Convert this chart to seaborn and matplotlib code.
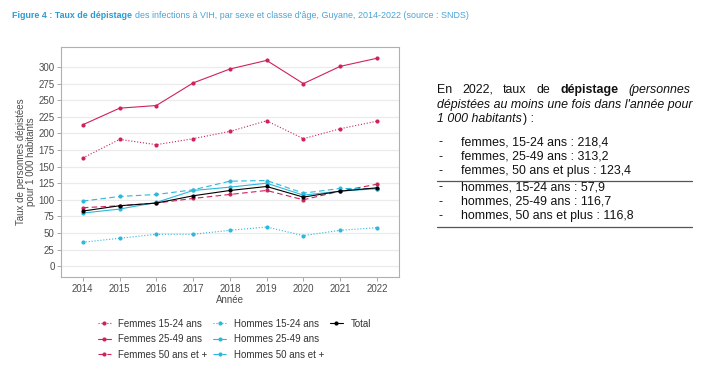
import pandas as pd
import matplotlib.pyplot as plt
from matplotlib.lines import Line2D
import seaborn as sns

annees = [2014, 2015, 2016, 2017, 2018, 2019, 2020, 2021, 2022]
femmes_15_24 = [163, 191, 183, 192, 203, 219, 192, 207, 218.4]
femmes_25_49 = [213, 238, 242, 276, 297, 310, 275, 301, 313.2]
femmes_50 = [88, 91, 95, 102, 108, 114, 100, 113, 123.4]
hommes_15_24 = [36, 42, 48, 48, 54, 59, 46, 54, 57.9]
hommes_25_49 = [80, 86, 96, 114, 119, 125, 107, 113, 116.7]
hommes_50 = [98, 105, 108, 115, 128, 129, 110, 117, 116.8]
total = [83, 91, 95, 106, 114, 120, 104, 113, 118]

ROSE = '#d0215f'
CYAN = '#2db7dc'
series = [
    ('Femmes 15-24 ans', femmes_15_24, ROSE, ':'),
    ('Femmes 25-49 ans', femmes_25_49, ROSE, '-'),
    ('Femmes 50 ans et +', femmes_50, ROSE, (0, (5, 3))),
    ('Hommes 15-24 ans', hommes_15_24, CYAN, ':'),
    ('Hommes 25-49 ans', hommes_25_49, CYAN, '-'),
    ('Hommes 50 ans et +', hommes_50, CYAN, (0, (5, 3))),
    ('Total', total, 'black', '-'),
]

sns.set_theme(style='white')
plt.rcParams['font.family'] = ['Liberation Sans', 'DejaVu Sans']

fig = plt.figure(figsize=(7.15, 3.71), dpi=100)
ax = fig.add_axes([0.086, 0.254, 0.472, 0.619])

handles = []
for nom, vals, col, ls in series:
    df = pd.DataFrame({'annee': annees, 'taux': vals})
    sns.lineplot(data=df, x='annee', y='taux', ax=ax, color=col, linestyle=ls,
                 linewidth=0.8, marker='o', markersize=3, markeredgewidth=0,
                 legend=False)
    handles.append(Line2D([], [], color=col, linestyle=ls, linewidth=0.8,
                          marker='o', markersize=3, markeredgewidth=0, label=nom))
# deux entrées vides pour avoir 3 lignes x 3 colonnes
for _ in range(2):
    handles.append(Line2D([], [], color='none', label=''))

ax.set_xlim(2013.42, 2022.6)
ax.set_ylim(-16, 330)
ax.set_xticks(annees)
ax.set_yticks(range(0, 301, 25))
ax.yaxis.grid(True, color='#ebebeb', linewidth=0.9)
ax.set_axisbelow(True)
for s in ax.spines.values():
    s.set_color('#b0b0b0')
    s.set_linewidth(0.8)
ax.tick_params(axis='both', which='major', labelsize=7, colors='#9a9a9a',
               labelcolor='#4d4d4d', length=3, width=0.6, direction='out',
               bottom=True, left=True, pad=2)
ax.set_xlabel('Année', fontsize=7, color='#4d4d4d', labelpad=1)
ax.set_ylabel('Taux de personnes dépistées\npour 1 000 habitants', fontsize=7,
              color='#4d4d4d', labelpad=2, linespacing=1.0)

W, H = 715, 371
fig.legend(handles=handles, ncol=3, loc='upper left',
           bbox_to_anchor=(93 / W, 1 - 314 / H), borderpad=0,
           frameon=False, fontsize=7, handlelength=1.3, columnspacing=0.6,
           labelspacing=0.55, handletextpad=0.8, labelcolor='#333333')

r = fig.canvas.get_renderer()

# titre
t1 = fig.text(12 / W, 1 - 15 / H, 'Figure 4 : Taux de dépistage', fontsize=6.4,
              fontweight='bold', color='#2a9bd4', va='center', ha='left')
bb = t1.get_window_extent(r)
fig.text(bb.x1 / W + 3 / W, 1 - 15 / H,
         "des infections à VIH, par sexe et classe d'âge, Guyane, 2014-2022 (source : SNDS)",
         fontsize=6.4, color='#4aa3d6', va='center', ha='left')

# encadré de texte à droite
fs = 8.9
tc = '#111111'
x0, x1 = 437, 690
y1 = 1 - 90 / H
mots = [('En', {}), ('2022,', {}), ('taux', {}), ('de', {}),
        ('dépistage', {'fontweight': 'bold'}), ('(personnes', {'style': 'italic'})]
arts = [fig.text(0, y1, m, fontsize=fs, color=tc, va='center', ha='left', **kw)
        for m, kw in mots]
larg = [a.get_window_extent(r).width for a in arts]
gap = (x1 - x0 - sum(larg)) / (len(arts) - 1)
x = x0
for a, w in zip(arts, larg):
    a.set_x(x / W)
    x += w + gap
fig.text(x0 / W, 1 - 104.5 / H, "dépistées au moins une fois dans l'année pour",
         fontsize=fs, color=tc, va='center', ha='left', style='italic')
t3 = fig.text(x0 / W, 1 - 119 / H, '1 000 habitants', fontsize=fs, color=tc,
              va='center', ha='left', style='italic')
bb = t3.get_window_extent(r)
fig.text(bb.x1 / W + 1 / W, 1 - 119 / H, ') :', fontsize=fs, color=tc, va='center',
         ha='left')

lignes_f = ['femmes, 15-24 ans : 218,4', 'femmes, 25-49 ans : 313,2',
            'femmes, 50 ans et plus : 123,4']
lignes_h = ['hommes, 15-24 ans : 57,9', 'hommes, 25-49 ans : 116,7',
            'hommes, 50 ans et plus : 116,8']
for debut, lignes in ((142.5, lignes_f), (187.5, lignes_h)):
    for i, txt in enumerate(lignes):
        y = 1 - (debut + 14.3 * i) / H
        fig.text(439 / W, y, '-', fontsize=fs, color=tc, va='center', ha='left')
        fig.text(461 / W, y, txt, fontsize=fs, color=tc, va='center', ha='left')
for yl in (180.5, 227):
    fig.add_artist(Line2D([437 / W, 692 / W], [1 - yl / H, 1 - yl / H],
                          color='#555555', linewidth=0.9))

fig.savefig('out.png', dpi=100, facecolor='white')
